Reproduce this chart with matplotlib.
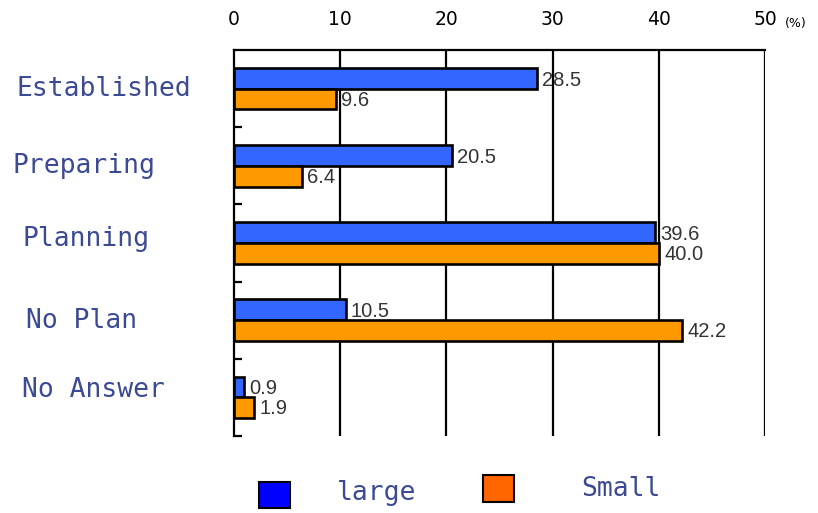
import matplotlib
matplotlib.use("Agg")
import matplotlib.pyplot as plt
from matplotlib.patches import Rectangle

categories = ["Established", "Preparing", "Planning", "No Plan", "No Answer"]
large = [28.5, 20.5, 39.6, 10.5, 0.9]
small = [9.6, 6.4, 40.0, 42.2, 1.9]
x_ticks = [0, 10, 20, 30, 40, 50]
series_names = ["large", "Small"]

W, H = 818, 513
fig = plt.figure(figsize=(W / 100, H / 100), dpi=100)
ax = fig.add_axes([234 / W, 1 - 436 / H, (765 - 234) / W, (436 - 50) / H])

label_font = "DejaVu Sans Mono"
label_color = "#3c4a94"

n = len(categories)
centers = [i + 0.5 for i in range(n)]
bh = 0.27
ax.barh([c - 0.135 for c in centers], large, height=bh, color="#3366ff",
        edgecolor="black", linewidth=1.9, zorder=3)
ax.barh([c + 0.135 for c in centers], small, height=bh, color="#ff9900",
        edgecolor="black", linewidth=1.9, zorder=3)

for c, v in zip(centers, large):
    ax.text(v + 0.5, c - 0.11, f"{v:.1f}", va="center", ha="left",
            fontsize=14.5, color="#333333", family="Liberation Sans", zorder=4)
for c, v in zip(centers, small):
    ax.text(v + 0.5, c + 0.15, f"{v:.1f}", va="center", ha="left",
            fontsize=14.5, color="#333333", family="Liberation Sans", zorder=4)

ax.set_xlim(0, 50)
ax.set_ylim(n, 0)

# vertical grid lines and frame
for t in x_ticks[1:]:
    ax.axvline(t, color="black", linewidth=1.6, zorder=1)
for side in ["right", "bottom"]:
    ax.spines[side].set_visible(False)
ax.spines["top"].set_linewidth(1.6)
ax.spines["left"].set_linewidth(1.6)

ax.xaxis.tick_top()
ax.set_xticks(x_ticks)
ax.set_xticklabels([str(t) for t in x_ticks], fontsize=13.5)
ax.tick_params(axis="x", length=0, pad=15)

ax.set_yticks(list(range(1, n + 1)))
ax.set_yticklabels([])
ax.tick_params(axis="y", direction="in", length=6, width=1.6)

fig.text(785 / W, 1 - 24 / H, "(%)", fontsize=9, va="center", ha="left")

# category names beside the axis (pixel positions of each label centre)
label_x = [104, 84, 86, 82, 93]
label_y = [89, 166, 239, 321, 390]
for name, lx, ly in zip(categories, label_x, label_y):
    fig.text(lx / W, 1 - ly / H, name, ha="center", va="center",
             fontsize=19, family=label_font, color=label_color)

# legend
fig.patches.append(Rectangle((259 / W, 1 - 508 / H), 31 / W, 26 / H,
                             transform=fig.transFigure, facecolor="#0000ff",
                             edgecolor="black", linewidth=1.5))
fig.patches.append(Rectangle((483 / W, 1 - 502 / H), 31 / W, 27 / H,
                             transform=fig.transFigure, facecolor="#ff6600",
                             edgecolor="black", linewidth=1.5))
fig.text(377 / W, 1 - 493 / H, series_names[0], ha="center", va="center",
         fontsize=19, family=label_font, color=label_color)
fig.text(621 / W, 1 - 489 / H, series_names[1], ha="center", va="center",
         fontsize=19, family=label_font, color=label_color)

fig.savefig("out.png", dpi=100)
